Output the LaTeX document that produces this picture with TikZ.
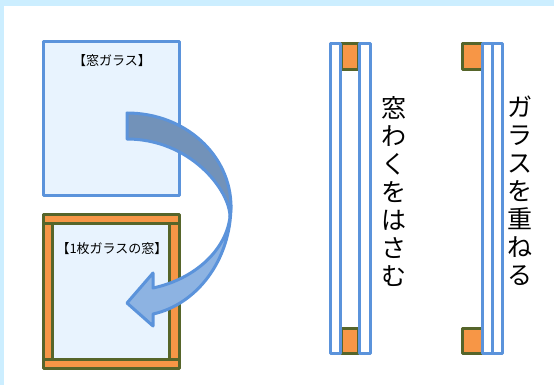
\documentclass[tikz,border=0pt]{standalone}
\usepackage{fontspec}
\newfontfamily\cjk{Noto Sans CJK JP}
\definecolor{bgblue}{HTML}{CCEEFF}
\definecolor{edgeblue}{HTML}{5B93DB}
\definecolor{paneblue}{HTML}{E8F3FE}
\definecolor{woodfill}{HTML}{F79646}
\definecolor{woodedge}{HTML}{56652A}
\definecolor{arrowback}{HTML}{7292B9}
\definecolor{arrowfront}{HTML}{8DB3E2}
\tikzset{
  pane/.style={draw=edgeblue,fill=paneblue,line width=3pt,line join=round},
  strip/.style={draw=edgeblue,fill=white,line width=3pt,line join=round},
  wood/.style={draw=woodedge,fill=woodfill,line width=3pt,line join=round},
  swing/.style={draw=edgeblue,line width=3pt,line join=round},
  tag/.style={font=\cjk\fontsize{13}{15}\selectfont,inner sep=0pt},
  tall/.style={font=\cjk\fontsize{25}{28}\selectfont,align=center,inner sep=0pt},
}
\begin{document}
\begin{tikzpicture}[x=1pt,y=-1pt]
  \useasboundingbox (0,0) rectangle (554,385);
  \fill [bgblue] (0,0) rectangle (554,385);
  \fill [white] (4,6) rectangle (554,385);
  % glass sheet
  \draw [pane] (43,42) rectangle (179,195);
  \node [tag] (sheetlabel) at (112,61) {【窓ガラス】};
  % framed window
  \draw [pane] (52,223) rectangle (169,359);
  \draw [wood] (43,223) rectangle (52,359);
  \draw [wood] (169,223) rectangle (179,359);
  \draw [wood] (43,214) rectangle (179,223);
  \draw [wood] (43,359) rectangle (179,368);
  \node [tag] (windowlabel) at (112,249) {【1枚ガラスの窓】};
  % curved arrow
  \draw [swing,fill=arrowback]
    (127,113) .. controls (185,113) and (231,155) .. (231,207)
    -- (230,217) .. controls (230,190) and (190,139) .. (127,139) -- cycle;
  \draw [swing,fill=arrowfront]
    (231,205) .. controls (231,262) and (195,305) .. (153,314)
    -- (153,326) -- (127,303) -- (153,273) -- (153,288)
    .. controls (195,279) and (226,250) .. (230,217)
    .. controls (231,213) and (231,209) .. (231,205) -- cycle;
  % frame around the glass
  \draw [wood] (341,44) rectangle (358,70);
  \draw [wood] (341,328) rectangle (358,353);
  \foreach \xa/\xb in {330/340,359/370} {
    \draw [strip] (\xa,44) rectangle (\xb,353);
  }
  % glass laid on the frame
  \draw [wood] (462,44) rectangle (482,70);
  \draw [wood] (462,328) rectangle (482,353);
  \foreach \xa/\xb in {482/492,492/502} {
    \draw [strip] (\xa,44) rectangle (\xb,353);
  }
  \node [tall] (leftcaption) at (394,192) {窓\\わ\\く\\を\\は\\さ\\む};
  \node [tall] (rightcaption) at (520,191) {ガ\\ラ\\ス\\を\\重\\ね\\る};
\end{tikzpicture}
\end{document}
